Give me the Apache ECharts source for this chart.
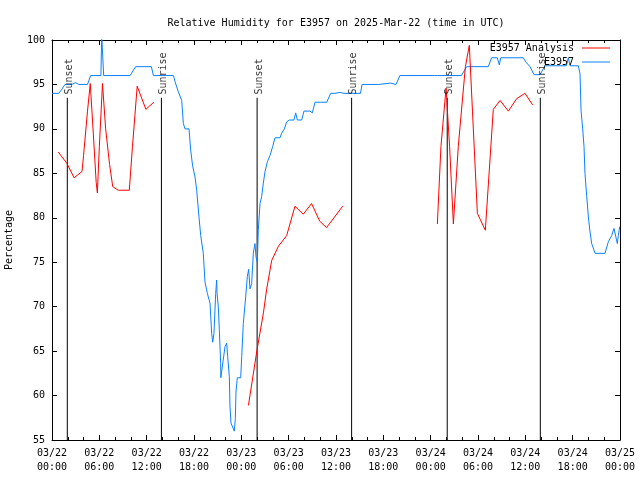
<!DOCTYPE html>
<html><head><meta charset="utf-8">
<script src="https://cdn.jsdelivr.net/npm/echarts@6/dist/echarts.min.js"></script>
<style>html,body{margin:0;padding:0;background:#fff}#c{width:640px;height:480px}</style>
</head><body><div id="c"></div>
<script>
// x values are hours since 2025-03-22 00:00 UTC
const xTickLabels = ['03/22\n00:00','03/22\n06:00','03/22\n12:00','03/22\n18:00','03/23\n00:00','03/23\n06:00','03/23\n12:00','03/23\n18:00','03/24\n00:00','03/24\n06:00','03/24\n12:00','03/24\n18:00','03/25\n00:00'];
const yTicks = [55,60,65,70,75,80,85,90,95,100];

const sunEventHours = [1.94, 13.87, 26.0, 37.98, 50.1, 61.9];
const sunEventNames = ['Sunset','Sunrise','Sunset','Sunrise','Sunset','Sunrise'];
const sunLineTop = 93.5;
const sunLabelValue = 94.2;

const analysisSeg1 = [[0.8,87.4],[1.9,86.1],[2.8,84.5],[3.8,85.2],[4.0,87.0],[4.5,92.0],[4.85,95.1],[5.2,90.0],[5.6,84.0],[5.75,82.8],[6.0,88.0],[6.4,95.1],[6.8,90.0],[7.3,86.0],[7.7,83.5],[8.4,83.1],[9.8,83.1],[10.2,88.0],[10.8,94.8],[11.9,92.2],[12.9,93.0]];
const analysisSeg2 = [[24.9,58.9],[26.0,65.2],[26.8,69.3],[27.2,71.9],[27.85,75.2],[28.7,76.8],[29.75,78.0],[30.8,81.3],[31.85,80.4],[32.9,81.6],[33.95,79.6],[34.8,78.9],[36.85,81.3]];
const analysisSeg3 = [[48.85,79.3],[49.3,88.0],[49.95,94.6],[50.4,88.0],[50.88,79.3],[51.5,88.0],[52.4,97.0],[52.9,99.4],[53.3,92.0],[53.92,80.5],[54.93,78.6],[55.94,92.2],[56.8,93.2],[57.85,92.0],[58.9,93.4],[59.95,94.0],[60.93,92.7]];

const stationObs = [
[0.0,94],[0.85,94],[1.2,94.4],[1.65,95],[2.5,95],[3.0,95.2],[3.4,95],[4.5,95],[4.9,96],[6.2,96],[6.3,100.5],[6.45,100.5],[6.55,96],[9.9,96],[10.6,97],[12.6,97],[12.85,96],[15.4,96],[15.6,95.3],[16.0,94.2],
[16.44,93.2],[16.65,90.6],[16.86,90],[17.37,90],[17.58,87.6],[17.83,85.8],[18.13,84.6],[18.34,83.1],[18.63,80.1],[18.85,78],[19.18,76],[19.39,72.8],[19.69,71.5],[20.03,70.4],[20.24,67],[20.37,66],[20.53,67],[20.75,71.5],[20.87,73],[20.92,71.5],[21.08,70],[21.21,67.4],[21.38,63.6],[21.4,62],[21.64,62],[21.93,65.5],[22.14,65.9],[22.27,64.4],[22.48,62.1],[22.56,58.8],[22.69,56.9],[23.11,56],[23.24,57.4],[23.32,60.4],[23.49,62],[23.92,62],[24.05,64.4],[24.25,68.1],[24.55,71.1],[24.76,73.4],[24.93,74.2],[25.1,72],[25.31,72.6],[25.52,76],[25.73,77.1],[25.86,75.6],[26.03,75],[26.15,78.6],[26.37,81.6],[26.58,82.4],[26.79,83.9],[27.0,85.2],[27.3,86.3],[27.63,87],[27.97,88],[28.27,89],[28.9,89],[29.11,89.5],[29.45,90],[29.75,90.8],[30.08,91],[30.67,91],[30.89,91.8],[31.1,91],[31.65,91],[31.94,92],[32.7,92],[33.0,91.8],[33.34,93],[34.0,93],[34.82,93],[35.33,94],[35.87,94],[36.05,93.8],[36.5,94.1],[36.7,93.9],[37.0,94],[39.1,94],[39.3,95],[41.4,95],[41.5,95.15],[42.9,95.15],[43.0,95],[43.6,95],[44.1,96],[48.5,96],[48.7,95.8],[48.9,96],[51.9,96],[52.56,97],[55.3,97],[55.73,98],[56.45,98],[56.7,97.2],[56.88,98],[59.74,98],[60.09,97.5],[60.59,97],[61.1,96.1],[61.86,96.1],[62.49,97.1],[65.2,97.1],[65.45,98],[65.66,97.1],[66.72,97.1],[66.93,96.2],[67.06,92.1],[67.27,90],[67.44,88],[67.56,85],[67.78,82.4],[67.99,80.1],[68.2,78.4],[68.41,77.1],[68.84,76],[70.1,76],[70.52,77.3],[70.95,78],[71.24,78.8],[71.66,77.1],[71.79,78],[71.96,79]
];

const FONT = '"DejaVu Sans Mono", "Liberation Mono", monospace';

function withGaps(segs){
  const out = [];
  segs.forEach((s,i)=>{ if(i>0) out.push([s[0][0]-0.01, null]); s.forEach(p=>out.push(p)); });
  return out;
}
const sunLineData = [];
sunEventHours.forEach(h=>{ sunLineData.push([h,55]); sunLineData.push([h,sunLineTop]); sunLineData.push([h,null]); });
const sunLabelData = sunEventHours.map((h,i)=>({value:[h,sunLabelValue], name:sunEventNames[i]}));

const axisCommon = {
  axisLine:{show:true, onZero:false, lineStyle:{color:'#000', width:1}},
  splitLine:{show:false}
};

const chart = echarts.init(document.getElementById('c'), null, {renderer:'canvas'});
chart.setOption({
  animation:false,
  backgroundColor:'#fff',
  textStyle:{fontFamily:FONT},
  title:{
    text:'Relative Humidity for E3957 on 2025-Mar-22 (time in UTC)',
    left:331, top:13, textAlign:'center',
    textStyle:{fontFamily:FONT, fontSize:10, fontWeight:'normal', color:'#000'}
  },
  legend:{
    orient:'vertical', right:25, top:37, align:'right',
    itemWidth:28, itemHeight:1, itemGap:2, icon:'rect',
    data:['E3957 Analysis','E3957'],
    textStyle:{fontFamily:FONT, fontSize:10, color:'#000', lineHeight:12, padding:[0,3,0,0]}
  },
  grid:{left:52, right:20, top:40, bottom:40, containLabel:false, outerBoundsMode:'none'},
  xAxis:[
    Object.assign({}, axisCommon, {
      type:'value', min:0, max:72, interval:6, position:'bottom',
      axisTick:{show:true, inside:true, length:5, lineStyle:{color:'#000'}},
      minorTick:{show:true, splitNumber:3, length:3, lineStyle:{color:'#000'}},
      axisLabel:{show:true, margin:6, color:'#000', fontFamily:FONT, fontSize:10, lineHeight:14,
        formatter:(v)=> xTickLabels[Math.round(v/6)] }
    }),
    Object.assign({}, axisCommon, {
      type:'value', min:0, max:72, interval:6, position:'top',
      axisTick:{show:true, inside:true, length:5, lineStyle:{color:'#000'}},
      minorTick:{show:true, splitNumber:3, length:3, lineStyle:{color:'#000'}},
      axisLabel:{show:false}
    })
  ],
  yAxis:[
    Object.assign({}, axisCommon, {
      type:'value', min:yTicks[0], max:yTicks[yTicks.length-1], interval:5, position:'left',
      axisTick:{show:true, inside:true, length:5, lineStyle:{color:'#000'}},
      axisLabel:{show:true, margin:7, color:'#000', fontFamily:FONT, fontSize:10},
      name:'Percentage', nameLocation:'middle', nameRotate:90, nameGap:38,
      nameTextStyle:{fontFamily:FONT, fontSize:10, color:'#000'}
    }),
    Object.assign({}, axisCommon, {
      type:'value', min:yTicks[0], max:yTicks[yTicks.length-1], interval:5, position:'right',
      axisTick:{show:true, inside:true, length:5, lineStyle:{color:'#000'}},
      axisLabel:{show:false}
    })
  ],
  series:[
    {
      name:'sun', type:'line', data:sunLineData, symbol:'none', connectNulls:false,
      lineStyle:{color:'#000', width:1}, silent:true, z:1
    },
    {
      name:'sunLabels', type:'scatter', data:sunLabelData, symbolSize:0, silent:true, z:5,
      label:{show:true, formatter:'{b}', position:'inside', rotate:90, align:'left', verticalAlign:'middle',
        offset:[-3,2], color:'#000', fontFamily:FONT, fontSize:10}
    },
    {
      name:'E3957', type:'line', data:stationObs, symbol:'none',
      lineStyle:{color:'#0a80ff', width:1}, itemStyle:{color:'#0a80ff'}, z:2
    },
    {
      name:'E3957 Analysis', type:'line', data:withGaps([analysisSeg1, analysisSeg2, analysisSeg3]), symbol:'none', connectNulls:false,
      lineStyle:{color:'#ff0000', width:1}, itemStyle:{color:'#ff0000'}, z:3
    }
  ]
});
</script>
</body></html>
